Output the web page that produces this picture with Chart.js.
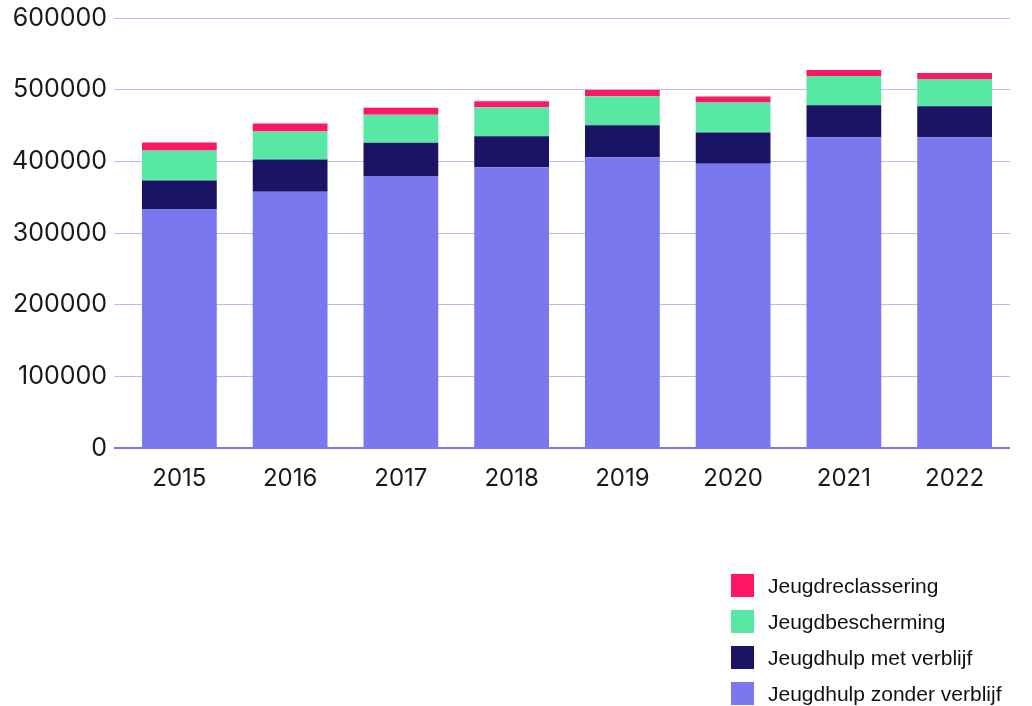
<!DOCTYPE html>
<html>
<head>
<meta charset="utf-8">
<script src="https://cdn.jsdelivr.net/npm/chart.js@4"></script>
<style>
    html, body { margin: 0; padding: 0; background: #fff; }
    #wrap { position: relative; width: 1032px; height: 706px; }
    #legend { position: absolute; left: 731px; top: 574px; font-family: 'Liberation Sans', Arial, sans-serif; font-size: 21px; color: #111; }
    #legend .item { display: flex; align-items: center; height: 23px; margin-bottom: 13px; white-space: nowrap; }
    #legend .box { width: 23px; height: 23px; margin-right: 14px; }
</style>
</head>
<body>
<div id="wrap">
    <canvas id="jeugdChart" width="1032" height="706"></canvas>
    <div id="legend"></div>
</div>
<script>
const YEARS = ['2015', '2016', '2017', '2018', '2019', '2020', '2021', '2022'];

// values (aantal trajecten)
const ZONDER_VERBLIJF = [333000, 358000, 380000, 392000, 406000, 397000, 434000, 434000];
const MET_VERBLIJF = [40500, 44800, 46200, 43400, 44700, 43400, 44700, 43300];
const BESCHERMING = [42000, 39200, 39100, 40500, 40600, 41900, 40600, 37800];
const RECLASSERING = [11200, 11100, 9800, 8400, 8400, 8400, 8400, 8400];

const Y_TICKS = [0, 100000, 200000, 300000, 400000, 500000, 600000];

const COLORS = {
    zonder: '#7a78ee',
    met: '#1b1464',
    bescherming: '#57e8a4',
    reclassering: '#ff1766'
};

Chart.defaults.font.family = "Inter, 'Liberation Sans', sans-serif";
Chart.defaults.color = '#1a1a1a';

const ctx = document.getElementById('jeugdChart').getContext('2d');
const jeugdChart = new Chart(ctx, {
    type: 'bar',
    data: {
        labels: YEARS,
        datasets: [
            {label: 'Jeugdhulp zonder verblijf', data: ZONDER_VERBLIJF, backgroundColor: COLORS.zonder},
            {label: 'Jeugdhulp met verblijf', data: MET_VERBLIJF, backgroundColor: COLORS.met},
            {label: 'Jeugdbescherming', data: BESCHERMING, backgroundColor: COLORS.bescherming},
            {label: 'Jeugdreclassering', data: RECLASSERING, backgroundColor: COLORS.reclassering}
        ]
    },
    options: {
        responsive: false,
        animation: false,
        layout: {
            padding: {top: 0, right: 22, bottom: 205, left: 5}
        },
        datasets: {
            bar: {
                categoryPercentage: 1,
                barPercentage: 0.675
            }
        },
        scales: {
            x: {
                stacked: true,
                grid: {display: false},
                border: {display: false},
                ticks: {font: {size: 24}, padding: 8}
            },
            y: {
                stacked: true,
                min: 0,
                max: 600000,
                afterBuildTicks: function(axis) {
                    axis.ticks = Y_TICKS.map(function(v) { return {value: v}; });
                },
                border: {display: false},
                grid: {
                    tickLength: 10,
                    color: function(c) {
                        return c.tick && c.tick.value === 0 ? '#7b78ee' : '#bdb9f5';
                    },
                    lineWidth: function(c) {
                        return c.tick && c.tick.value === 0 ? 2 : 1;
                    }
                },
                ticks: {
                    font: {size: 25, lineHeight: 0.9},
                    padding: 7,
                    callback: function(v) { return String(v); }
                }
            }
        },
        plugins: {
            legend: {display: false},
            tooltip: {enabled: false}
        }
    }
});

// legend as a vertical list, top item is the top of the stack
const legendEl = document.getElementById('legend');
jeugdChart.data.datasets.slice().reverse().forEach(function(ds) {
    const item = document.createElement('div');
    item.className = 'item';
    const box = document.createElement('span');
    box.className = 'box';
    box.style.background = ds.backgroundColor;
    const text = document.createElement('span');
    text.textContent = ds.label;
    item.appendChild(box);
    item.appendChild(text);
    legendEl.appendChild(item);
});
</script>
</body>
</html>
